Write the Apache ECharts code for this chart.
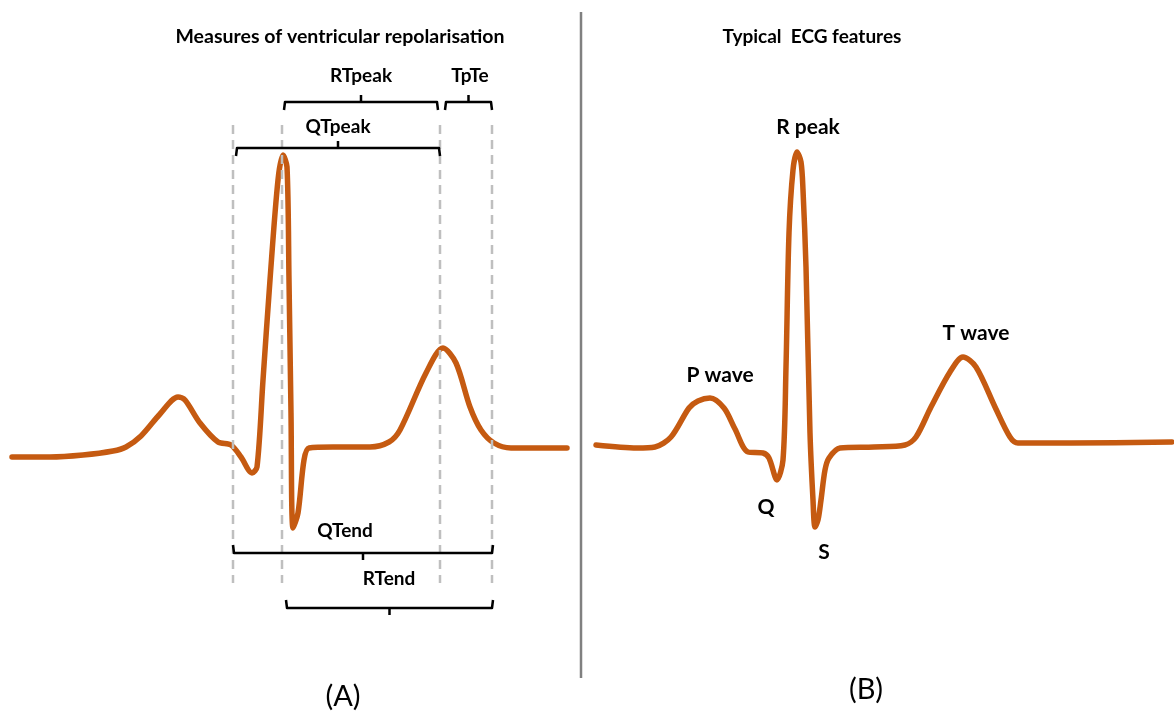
<!DOCTYPE html>
<html>
<head>
<meta charset="utf-8">
<script src="https://cdn.jsdelivr.net/npm/echarts/dist/echarts.min.js"></script>
<style>
html,body{margin:0;padding:0;background:#fff;}
#chart{width:1174px;height:713px;}
</style>
</head>
<body>
<div id="chart"></div>
<script>
// ---------- DATA ----------
// Panel A: ECG trace, [time (ms), amplitude (mV)]
const traceA = [
  [0,0],[76,0],[142,0.02],[202,0.06],[228,0.10],[258,0.21],[296,0.43],[332,0.60],[346,0.57],
  [376,0.34],[412,0.15],[438,0.12],[458,0.0],[480,-0.16],[490,-0.10],[502,0.77],[516,1.77],
  [532,2.77],[542,3.02],[550,2.90],[554,1.77],[558,0.44],[562,-0.71],[572,-0.56],[584,-0.03],
  [594,0.09],[642,0.10],[716,0.10],[754,0.15],[776,0.27],[828,0.84],[862,1.09],[888,0.94],
  [916,0.50],[938,0.27],[964,0.14],[998,0.09],[1110,0.09]
];
// Panel B: ECG trace, [time (ms), amplitude (mV)]
const traceB = [
  [0,0],[82,-0.03],[118,-0.02],[150,0.08],[186,0.37],[204,0.44],[228,0.47],[256,0.37],
  [278,0.16],[304,-0.07],[334,-0.08],[346,-0.13],[362,-0.35],[374,-0.15],[380,0.78],
  [386,2.12],[394,2.75],[402,2.93],[410,2.83],[414,2.55],[420,1.78],[428,0.12],[434,-0.55],
  [438,-0.82],[444,-0.75],[450,-0.55],[458,-0.25],[466,-0.13],[488,-0.03],[556,-0.02],
  [618,0],[640,0.08],[670,0.38],[708,0.73],[734,0.88],[760,0.78],[798,0.38],[828,0.08],
  [844,0.02],[950,0.02],[1152,0.03]
];
// Panel A: fiducial times (Q onset, R peak, T peak, T end) for dashed guides
const fiducialTimes = [442, 540, 856, 960];
const guideRange = [-1.26, 3.32];
// Panel A: interval brackets
const intervalNames  = ['RTpeak', 'TpTe', 'QTpeak', 'QTend', 'RTend'];
const intervalStart  = [544, 866, 448, 442, 548];
const intervalEnd    = [852, 960, 856, 962, 962];
const intervalLevel  = [3.55, 3.55, 3.09, -0.96, -1.51];
const intervalSide   = ['top', 'top', 'top', 'bottom', 'bottom'];
const intervalLabelT = [698, 916, 652, 666, 754];
// Panel B: feature labels
const featureNames = ['R peak', 'P wave', 'T wave', 'Q', 'S'];
const featureTimes = [424, 248, 760, 340, 456];
const featureAmps  = [3.18, 0.70, 1.12, -0.62, -1.07];
// Titles
const titleA = 'Measures of ventricular repolarisation';
const titleB = 'Typical  ECG features';
const panelTags = ['(A)', '(B)'];

// ---------- CHART ----------
const ORANGE = '#C55A11';
const FONT = 'Lato, "Open Sans", sans-serif';
const chart = echarts.init(document.getElementById('chart'));

const intervals = intervalNames.map((n, i) => [intervalStart[i], intervalEnd[i], intervalLevel[i], i]);
const features = featureNames.map((n, i) => [featureTimes[i], featureAmps[i], i]);

function axisPair(idx, max) {
  return {
    x: {type: 'value', gridIndex: idx, min: 0, max: max, show: false},
    y: {type: 'value', gridIndex: idx, min: -2, max: 4, show: false}
  };
}
const a = axisPair(0, 1110), b = axisPair(1, 1156);

chart.setOption({
  animation: false,
  backgroundColor: '#ffffff',
  grid: [
    {left: 12, top: 57, width: 555, height: 600},
    {left: 596, top: 45, width: 578, height: 600}
  ],
  xAxis: [a.x, b.x],
  yAxis: [a.y, b.y],
  graphic: [
    {type: 'line', shape: {x1: 581, y1: 12, x2: 581, y2: 678}, style: {stroke: '#808080', lineWidth: 2.5}},
    {type: 'text', x: 340, y: 37, style: {text: titleA, font: 'bold 19.5px ' + FONT, fill: '#000', textAlign: 'center', textVerticalAlign: 'middle'}},
    {type: 'text', x: 812, y: 37, style: {text: titleB, font: 'bold 19px ' + FONT, fill: '#000', textAlign: 'center', textVerticalAlign: 'middle'}},
    {type: 'text', x: 343, y: 697, style: {text: panelTags[0], font: '29px ' + FONT, fill: '#000', textAlign: 'center', textVerticalAlign: 'middle'}},
    {type: 'text', x: 866, y: 690, style: {text: panelTags[1], font: '29px ' + FONT, fill: '#000', textAlign: 'center', textVerticalAlign: 'middle'}}
  ],
  series: [
    {
      type: 'line', xAxisIndex: 0, yAxisIndex: 0, data: traceA, showSymbol: false,
      smooth: 0.3,
      lineStyle: {color: ORANGE, width: 5.5, cap: 'round', join: 'round'}, z: 2
    },
    {
      type: 'line', xAxisIndex: 1, yAxisIndex: 1, data: traceB, showSymbol: false,
      smooth: 0.3,
      lineStyle: {color: ORANGE, width: 5.5, cap: 'round', join: 'round'}, z: 2
    },
    {
      type: 'custom', xAxisIndex: 0, yAxisIndex: 0, z: 3,
      data: fiducialTimes.map(t => [t]),
      renderItem: function (params, api) {
        const p1 = api.coord([api.value(0), guideRange[1]]);
        const p2 = api.coord([api.value(0), guideRange[0]]);
        return {type: 'line', shape: {x1: p1[0], y1: p1[1], x2: p2[0], y2: p2[1]},
          style: {stroke: '#BFBFBF', lineWidth: 2.5, lineDash: [9, 6]}};
      }
    },
    {
      type: 'custom', xAxisIndex: 0, yAxisIndex: 0, z: 4,
      data: intervals,
      renderItem: function (params, api) {
        const i = api.value(3);
        const s = api.coord([api.value(0), api.value(2)]);
        const e = api.coord([api.value(1), api.value(2)]);
        const dir = intervalSide[i] === 'top' ? 1 : -1;
        const mid = (s[0] + e[0]) / 2;
        const y = s[1];
        const lab = api.coord([intervalLabelT[i], api.value(2)]);
        const labOff = intervalSide[i] === 'top' ? (i === 2 ? 21 : 26) : (i === 3 ? 22 : 29);
        return {
          type: 'group',
          children: [
            {type: 'polyline', shape: {points: [[s[0], y + dir * 8], [s[0] + 1, y], [e[0] - 1, y], [e[0], y + dir * 8]]},
              style: {stroke: '#000', lineWidth: 2.5, fill: null, lineJoin: 'round'}},
            {type: 'line', shape: {x1: mid, y1: y, x2: mid, y2: y - dir * 7},
              style: {stroke: '#000', lineWidth: 2.5}},
            {type: 'text', x: lab[0], y: y - labOff,
              style: {text: intervalNames[i], font: 'bold 19px ' + FONT, fill: '#000', textAlign: 'center', textVerticalAlign: 'middle'}}
          ]
        };
      }
    },
    {
      type: 'custom', xAxisIndex: 1, yAxisIndex: 1, z: 4,
      data: features,
      renderItem: function (params, api) {
        const p = api.coord([api.value(0), api.value(1)]);
        return {type: 'text', x: p[0], y: p[1],
          style: {text: featureNames[api.value(2)], font: 'bold 21px ' + FONT, fill: '#000', textAlign: 'center', textVerticalAlign: 'middle'}};
      }
    }
  ]
});
</script>
</body>
</html>
